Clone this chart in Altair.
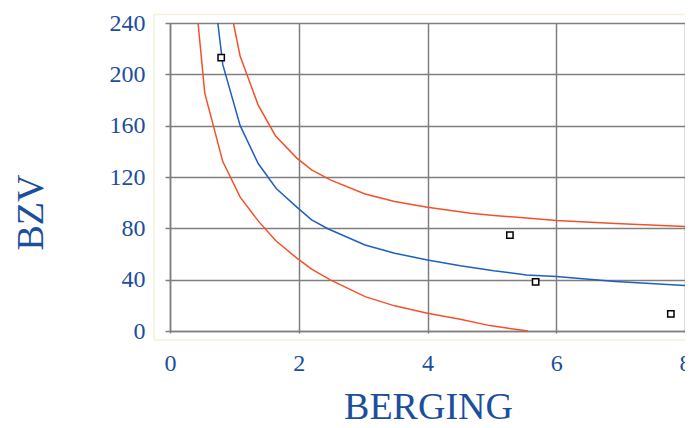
import altair as alt
import pandas as pd

# Blue central curve
blue_x = [0.743, 0.82, 1.09, 1.37, 1.65, 1.97, 2.2, 2.46, 3.03, 3.49, 4.0, 4.51, 5.03, 5.54, 6.0, 6.92, 8.0]
blue_y = [240, 207.5, 160, 130.5, 111, 96.5, 86.6, 79.5, 67, 60.6, 55.4, 50.8, 46.9, 43.7, 42.4, 38.5, 35.4]

# Upper red curve
up_x = [0.985, 1.09, 1.37, 1.64, 1.97, 2.2, 2.49, 3.03, 3.49, 4.0, 4.67, 5.03, 5.54, 6.0, 6.92, 8.0]
up_y = [240, 214, 176, 152, 134.7, 125.6, 117.8, 106.7, 100.9, 96.5, 91.8, 90, 88, 86.1, 83.7, 81.4]

# Lower red curve
lo_x = [0.436, 0.54, 0.82, 1.09, 1.37, 1.64, 1.97, 2.2, 2.49, 3.03, 3.49, 4.0, 4.51, 4.97, 5.56]
lo_y = [240, 185.4, 132, 104.3, 85.8, 70.5, 56.8, 48.2, 39.8, 26.8, 19.6, 13.9, 9.2, 4.2, 0]

# Observed points
pt_x = [0.795, 5.28, 5.68, 7.78]
pt_y = [213, 74.7, 38.3, 13.3]

x_ticks = [0, 2, 4, 6, 8]
y_ticks = [0, 40, 80, 120, 160, 200, 240]

TEXT = "#1B4F9E"
GRID = "#7F7F7F"
FONT = "Liberation Serif"

rows = []
for name, xs, ys in [("blue", blue_x, blue_y), ("upper", up_x, up_y), ("lower", lo_x, lo_y)]:
    for i, (a, b) in enumerate(zip(xs, ys)):
        rows.append({"series": name, "x": a, "y": b, "i": i})
lines_df = pd.DataFrame(rows)
pts_df = pd.DataFrame({"x": pt_x, "y": pt_y})

xscale = alt.Scale(domain=[0, 8], nice=False, zero=False)
yscale = alt.Scale(domain=[0, 240], nice=False, zero=False)

xaxis = alt.Axis(
    values=x_ticks, format="d", title="BERGING", grid=True, gridColor=GRID, gridWidth=1.5,
    domainColor=GRID, domainWidth=1.5, tickColor=GRID, tickWidth=1.5, tickSize=2,
    labelFont=FONT, labelFontSize=24, labelColor=TEXT, labelPadding=18,
    labelFlush=False, labelOverlap=False,
    titleFont=FONT, titleFontSize=38, titleColor=TEXT, titleFontWeight="normal",
    titleX=258, titleY=87, titleBaseline="alphabetic", titleAlign="center",
)
yaxis = alt.Axis(
    values=y_ticks, format="d", title="BZV", grid=True, gridColor=GRID, gridWidth=1.5,
    domainColor=GRID, domainWidth=1.5, tickColor=GRID, tickWidth=1.5, tickSize=5,
    labelFont=FONT, labelFontSize=24, labelColor=TEXT, labelPadding=20,
    labelFlush=False, labelOverlap=False,
    titleFont=FONT, titleFontSize=38, titleColor=TEXT, titleFontWeight="normal",
    titleX=-128, titleY=189, titleBaseline="alphabetic", titleAlign="center", titleAngle=270,
)

frame = alt.Chart(alt.Data(values=[{}])).mark_rect(
    fill=None, stroke="#F8F0D8", strokeWidth=1.5
).encode(
    x=alt.value(-16), x2=alt.value(560), y=alt.value(-8.5), y2=alt.value(317)
)

lines = alt.Chart(lines_df).mark_line(strokeWidth=1.5).encode(
    x=alt.X("x:Q", scale=xscale, axis=xaxis),
    y=alt.Y("y:Q", scale=yscale, axis=yaxis),
    color=alt.Color("series:N", scale=alt.Scale(domain=["blue", "upper", "lower"],
                                                 range=["#1F5FBF", "#F5502A", "#F5502A"]),
                    legend=None),
    detail="series:N",
    order="i:Q",
)

pts = alt.Chart(pts_df).mark_point(
    shape="square", filled=True, fill="white", stroke="black", strokeWidth=1.5, size=40, opacity=1
).encode(
    x=alt.X("x:Q", scale=xscale),
    y=alt.Y("y:Q", scale=yscale),
)

chart = alt.layer(frame, lines, pts).properties(
    width=515, height=308,
    autosize=alt.AutoSizeParams(type="none"),
    padding={"left": 162, "top": 15, "right": 0, "bottom": 89},
).configure_view(stroke=GRID, strokeWidth=1.5).configure(background="white")

chart.save("out.html", embed_options={"renderer": "svg", "actions": False})
